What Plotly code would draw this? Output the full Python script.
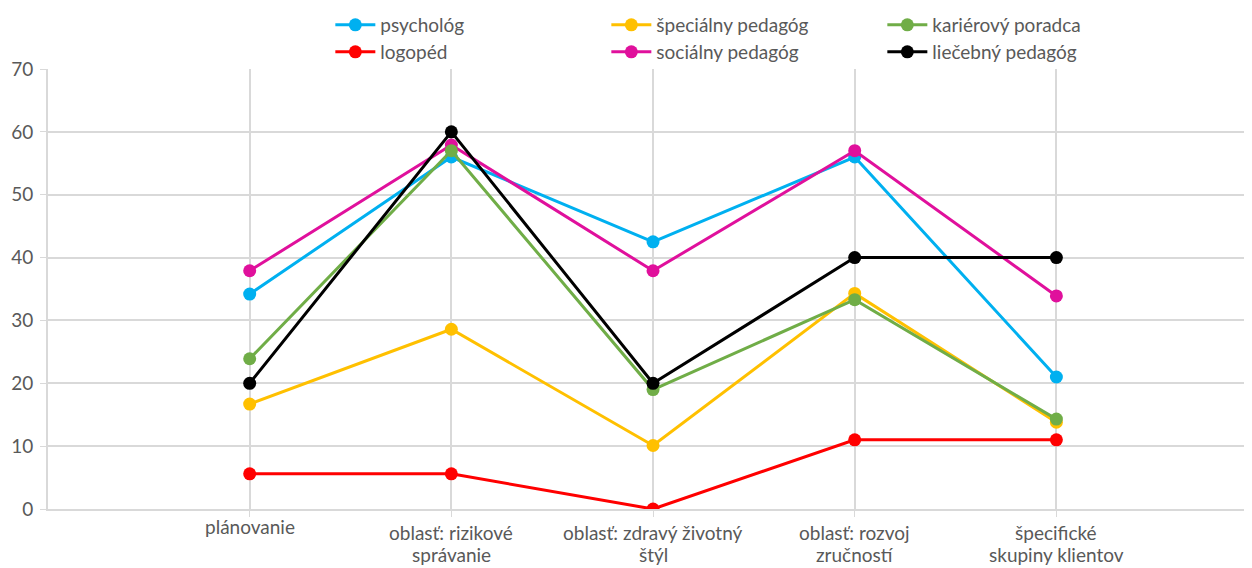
import plotly.graph_objects as go

categories = ["plánovanie", "oblasť: rizikové správanie", "oblasť: zdravý životný štýl",
              "oblasť: rozvoj zručností", "špecifické skupiny klientov"]
label_line1 = ["plánovanie", "oblasť: rizikové", "oblasť: zdravý životný",
               "oblasť: rozvoj", "špecifické"]
label_line2 = ["", "správanie", "štýl", "zručností", "skupiny klientov"]
psycholog = [34.2, 56.0, 42.5, 56.0, 21.0]
logoped = [5.6, 5.6, 0.0, 11.0, 11.0]
specialny = [16.7, 28.6, 10.1, 34.3, 13.8]
socialny = [37.9, 57.9, 37.9, 57.0, 33.9]
karierovy = [23.9, 57.0, 19.0, 33.3, 14.3]
liecebny = [20.0, 60.0, 20.0, 40.0, 40.0]
y_ticks = [0, 10, 20, 30, 40, 50, 60, 70]

series = [
    ("psychológ", psycholog, "#00B0F0", "legend"),
    ("logopéd", logoped, "#FF0000", "legend2"),
    ("špeciálny pedagóg", specialny, "#FFC000", "legend"),
    ("sociálny pedagóg", socialny, "#E0109C", "legend2"),
    ("kariérový poradca", karierovy, "#70AD47", "legend"),
    ("liečebný pedagóg", liecebny, "#000000", "legend2"),
]

xpos = list(range(1, len(categories) + 1))
fig = go.Figure()
for name, vals, color, lg in series:
    fig.add_trace(go.Scatter(
        x=xpos, y=vals, name=name, mode="lines+markers",
        line=dict(color=color, width=3),
        marker=dict(color=color, size=13),
        legend=lg,
    ))

TXT = "#595959"
font = dict(family="Lato, Carlito, sans-serif", size=19, color=TXT)
for i, x in enumerate(xpos):
    if label_line2[i]:
        placements = ((label_line1[i], -23), (label_line2[i], -45))
    else:
        placements = ((label_line1[i], -17),)
    for line, shift in placements:
        fig.add_annotation(x=x, y=0, xref="x", yref="y", text=line, showarrow=False,
                           yanchor="middle", xanchor="center", yshift=shift,
                           font=dict(size=19, color=TXT))

leg_common = dict(orientation="h", xanchor="left", yanchor="middle",
                  entrywidth=221, entrywidthmode="pixels", font=dict(size=19),
                  tracegroupgap=0, itemwidth=40, bgcolor="rgba(0,0,0,0)")
# page body has an 8px default margin; the figure is sized so it ends at the window edge
fig.update_layout(
    width=1244, height=560,
    margin=dict(l=40, r=0, t=61, b=59, autoexpand=False),
    paper_bgcolor="white", plot_bgcolor="white",
    font=font,
    showlegend=True,
    legend=dict(x=0.2345, y=1.1, **leg_common),
    legend2=dict(x=0.2345, y=1.0386, **leg_common),
    xaxis=dict(range=[0, 5.97], tickvals=xpos, ticktext=[""] * len(xpos),
               showgrid=True, gridcolor="#D9D9D9", gridwidth=1.5,
               showline=True, linecolor="#D9D9D9", linewidth=2,
               ticks="outside", ticklen=6, tickcolor="#D9D9D9",
               zeroline=False),
    yaxis=dict(range=[0, 70], tickvals=y_ticks,
               showgrid=True, gridcolor="#D9D9D9", gridwidth=1.5,
               showline=True, linecolor="#D9D9D9", linewidth=2,
               ticks="outside", ticklen=6, tickcolor="#D9D9D9",
               ticklabelstandoff=3,
               zeroline=False, tickfont=dict(size=19, color=TXT)),
)
fig.write_html("out.html")
